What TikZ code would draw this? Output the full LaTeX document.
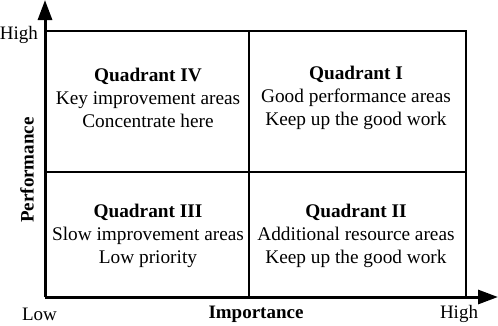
\documentclass[tikz,border=0pt]{standalone}
\usepackage{fontspec}
\setmainfont{Liberation Serif}
\usetikzlibrary{arrows.meta}
\begin{document}
\begin{tikzpicture}[x=1pt,y=-1pt,
  quadtext/.style={align=center,font=\fontsize{19.3}{23}\selectfont,inner sep=0pt},
  lbl/.style={font=\fontsize{19}{23}\selectfont,inner sep=0pt},
  axis/.style={line width=3pt,-{Triangle[length=20pt,width=14pt]}},
  grid/.style={line width=1.2pt}]
\useasboundingbox (0,0) rectangle (498,325);
\coordinate (O) at (45,297);
\coordinate (ytip) at (45,0);
\coordinate (xtip) at (498,297);
\coordinate (TL) at (45,31);
\coordinate (TR) at (466,31);
\coordinate (BR) at (466,297);
\coordinate (ML) at (45,172);
\coordinate (MR) at (466,172);
\coordinate (MT) at (249,31);
\coordinate (MB) at (249,297);
\draw[grid] (TL) -- (TR) -- (BR);
\draw[grid] (ML) -- (MR);
\draw[grid] (MT) -- (MB);
\draw[axis] (O) -- (ytip);
\draw[axis] (O) -- (xtip);
\node[quadtext] (q4) at (148,98) {\textbf{Quadrant IV}\\Key improvement areas\\Concentrate here};
\node[quadtext] (q1) at (356,98) {\textbf{Quadrant I}\\Good performance areas\\Keep up the good work};
\node[quadtext] (q3) at (148,236) {\textbf{Quadrant III}\\Slow improvement areas\\Low priority};
\node[quadtext] (q2) at (356,236) {\textbf{Quadrant II}\\Additional resource areas\\Keep up the good work};
\node[lbl,anchor=east] (yhigh) at (38,35) {High};
\node[lbl] (xlow) at (39.5,314) {Low};
\node[lbl] (xhigh) at (459,314) {High};
\node[lbl] (xname) at (256,314) {\textbf{Importance}};
\node[lbl,rotate=90] (yname) at (27,170) {\textbf{Performance}};
\end{tikzpicture}
\end{document}
